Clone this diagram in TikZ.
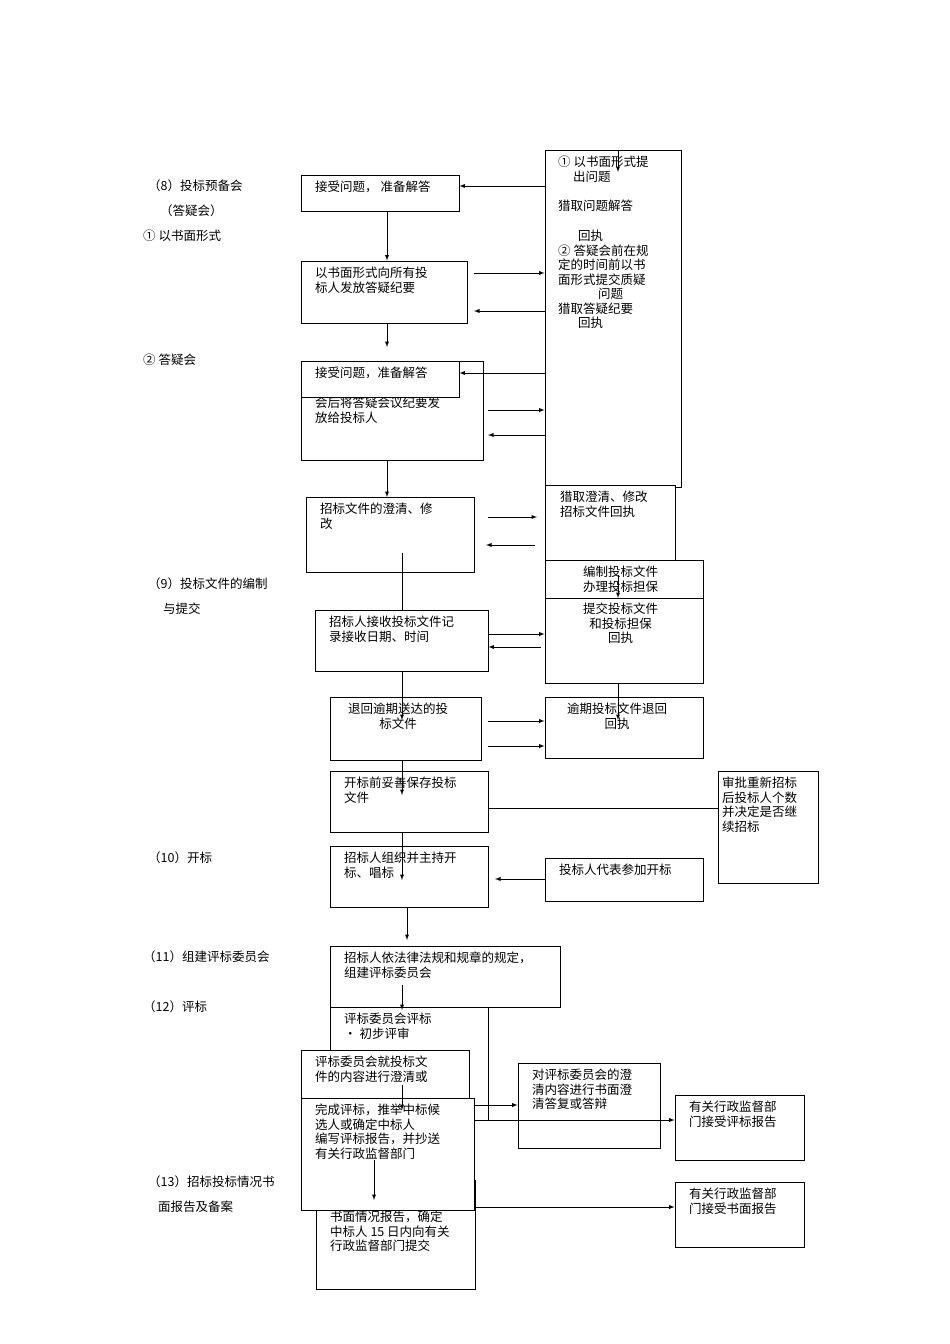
\documentclass[tikz,border=0pt]{standalone}
\usepackage{fontspec}
\setmainfont{Noto Sans CJK SC}
\usetikzlibrary{fit}
\begin{document}
\begin{tikzpicture}[x=1pt,y=-1pt,
  box/.style={draw,line width=0.9pt,fill=white,inner sep=0pt},
  t/.style={anchor=north west,inner sep=0pt,align=left,font=\fontsize{12.5}{14.5}\selectfont},
  lab/.style={anchor=west,inner sep=0pt,font=\fontsize{12.5}{14}\selectfont},
  ar/.style={-latex,line width=0.9pt},
  ln/.style={line width=0.9pt}]
\useasboundingbox (0,0) rectangle (950,1344);
\newcommand\bx[6]{\node[box,fit={(#2,#3)(#4,#5)}] (#1) {};
  \node[t] (#1t) at (#2+14,#3+6) {#6};}
% left labels
\node[lab] (l1) at (148,186) {（8）投标预备会};
\node[lab] (l2) at (160,211) {（答疑会）};
\node[lab] (l3) at (143,236) {① 以书面形式};
\node[lab] (l4) at (143,360) {② 答疑会};
\node[lab] (l5) at (148,584) {（9）投标文件的编制};
\node[lab] (l6) at (163,609) {与提交};
\node[lab] (l7) at (148,858) {（10）开标};
\node[lab] (l8) at (143,957) {（11）组建评标委员会};
\node[lab] (l9) at (143,1007) {（12）评标};
\node[lab] (l10) at (148,1182) {（13）招标投标情况书};
\node[lab] (l11) at (158,1207) {面报告及备案};
% big right box
\node[box,fit={(545,150)(681,487)}] (big) {};
\node[t] (bg1) at (558,156) {① 以书面形式提\\\hspace{1.2em}出问题};
\node[t] (bg2) at (558,200) {猎取问题解答};
\node[t] (bg3) at (558,230) {\hspace{1.6em}回执\\② 答疑会前在规\\定的时间前以书\\面形式提交质疑\\\hspace{3.2em}问题\\猎取答疑纪要\\\hspace{1.6em}回执};
\coordinate (topin) at (618,150);
\draw[ar] (topin) -- (618,172);
% left column
\bx{b1}{301}{175}{459}{211}{接受问题，\ 准备解答}
\bx{b2}{301}{261}{467}{323}{以书面形式向所有投\\标人发放答疑纪要}
\node[box,fit={(301,361)(483,460)}] (b3) {};
\node[t] (b3t) at (315,397) {会后将答疑会议纪要发\\放给投标人};
\bx{b4}{301}{361}{459}{397}{接受问题，准备解答}
\draw[ar] (big.west |- 0,186) -- (b1.east |- 0,186);
\draw[ar] (b1.south -| 387,0) -- (b2.north -| 387,0);
\draw[ar] (b2.south -| 387,0) -- (387,347);
\draw[ar] (474,273) -- (big.west |- 0,273);
\draw[ar] (big.west |- 0,311) -- (474,311);
\draw[ar] (big.west |- 0,373) -- (b4.east |- 0,373);
\draw[ar] (488,410) -- (big.west |- 0,410);
\draw[ar] (big.west |- 0,435) -- (488,435);
\bx{b5}{306}{497}{474}{572}{招标文件的澄清、修\\改}
\draw[ar] (b3.south -| 387,0) -- (387,497);
% right middle boxes
\bx{r1}{545}{485}{675}{560}{}
\node[t] (r1x) at (560,491) {猎取澄清、修改\\招标文件回执};
\draw[ln] (681,487) -- (675,487);
\bx{r2}{545}{560}{703}{598}{}
\node[t] (r2x) at (583,566) {编制投标文件\\办理投标担保};
\bx{r3}{545}{598}{703}{683}{}
\node[t,align=center] (r3x) at (583,603) {提交投标文件\\和投标担保\\回执};
\draw[ar] (618,575) -- (618,598);
\draw[ar] (488,517) -- (537,517);
\draw[ar] (535,545) -- (486,545);
\bx{b6}{315}{610}{488}{671}{招标人接收投标文件记\\录接收日期、时间}
\draw[ln] (402,553) -- (b6.north -| 402,0);
\draw[ar] (488,634) -- (r3.west |- 0,634);
\draw[ar] (541,647) -- (b6.east |- 0,647);
\bx{b7}{330}{697}{481}{760}{}
\node[t,align=center] (b7x) at (348,703) {退回逾期送达的投\\标文件};
\bx{r4}{545}{697}{703}{758}{}
\node[t,align=center] (r4x) at (567,703) {逾期投标文件退回\\回执};
\draw[ar] (b6.south -| 402,0) -- (402,720);
\draw[ar] (r3.south -| 618,0) -- (618,720);
\draw[ar] (488,721) -- (r4.west |- 0,721);
\draw[ar] (488,746) -- (r4.west |- 0,746);
\bx{b8}{330}{771}{488}{832}{开标前妥善保存投标\\文件}
\bx{r5}{718}{771}{818}{883}{}
\node[t] (r5x) at (722,777) {审批重新招标\\后投标人个数\\并决定是否继\\续招标};
\draw[ar] (b7.south -| 402,0) -- (402,795);
\draw[ln] (b8.east |- 0,808) -- (r5.west |- 0,808);
\bx{b9}{330}{846}{488}{907}{招标人组织并主持开\\标、唱标}
\bx{r6}{545}{858}{703}{901}{投标人代表参加开标}
\draw[ar] (b8.south -| 402,0) -- (402,880);
\draw[ar] (r6.west |- 0,879) -- (495,879);
\draw[ar] (b9.south -| 407,0) -- (407,940);
% evaluation
\bx{b10}{330}{946}{560}{1007}{招标人依法律法规和规章的规定，\\组建评标委员会}
\node[box,fit={(330,1007)(488,1120)}] (b11) {};
\node[t] (b11t) at (344,1013) {评标委员会评标\\ · 初步评审};
\draw[ar] (402,985) -- (402,1010);
\node[box,fit={(316,1180)(475,1289)}] (b14) {};
\node[t] (b14t) at (330,1211) {书面情况报告，确定\\中标人 15 日内向有关\\行政监督部门提交};
\bx{b12}{301}{1050}{469}{1105}{评标委员会就投标文\\件的内容进行澄清或}
\bx{b13}{301}{1098}{474}{1210}{完成评标，推举中标候\\选人或确定中标人\\编写评标报告，并抄送\\有关行政监督部门}
\draw[ar] (402,1085) -- (402,1110);
\draw[ar] (374,1160) -- (374,1200);
\bx{r7}{518}{1063}{660}{1148}{对评标委员会的澄\\清内容进行书面澄\\清答复或答辩}
\bx{r8}{675}{1095}{804}{1160}{有关行政监督部\\门接受评标报告}
\bx{r9}{675}{1182}{804}{1247}{有关行政监督部\\门接受书面报告}
\draw[ar] (b13.east |- 0,1105) -- (r7.west |- 0,1105);
\draw[ar] (b13.east |- 0,1120) -- (r8.west |- 0,1120);
\draw[ar] (b14.east |- 0,1207) -- (r9.west |- 0,1207);
\end{tikzpicture}
\end{document}
